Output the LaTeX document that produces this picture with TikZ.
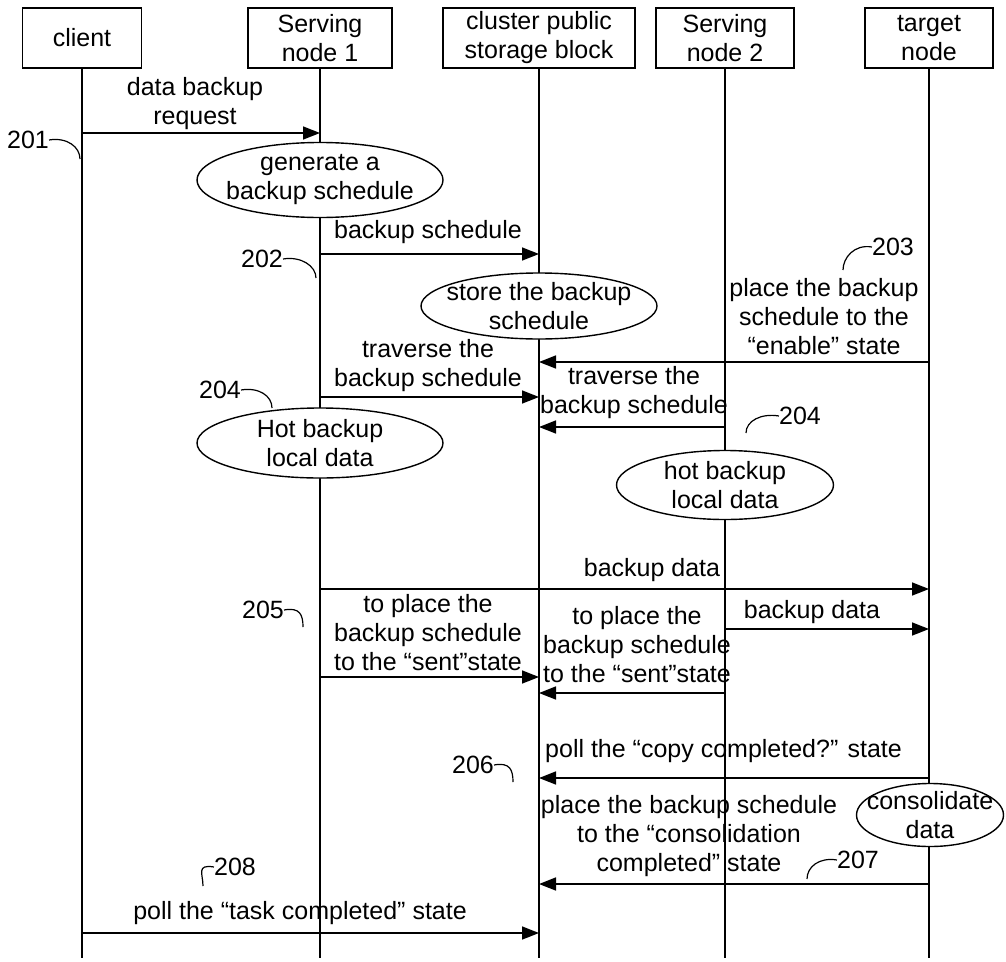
\documentclass[tikz,border=0pt]{standalone}
\usepackage{fontspec}
\setmainfont{Liberation Sans}
\usetikzlibrary{arrows.meta,shapes.geometric}
\begin{document}
\begin{tikzpicture}[x=1pt,y=-1pt,
  every node/.style={font=\fontsize{25}{29}\selectfont, inner sep=0pt},
  head/.style={draw, line width=1.6pt, minimum height=60pt, align=center},
  life/.style={line width=1.6pt},
  msg/.style={line width=1.6pt, -{Triangle[length=17pt,width=13pt]}},
  act/.style={ellipse, draw, line width=1.4pt, fill=white},
  lbl/.style={align=center},
  lead/.style={line width=1.2pt},
]
\useasboundingbox (0,0) rectangle (1006,961);
% heads
\node[head, minimum width=119pt] (cl) at (82,38) {client};
\node[head, minimum width=144pt] (s1) at (320,38) {Serving\\node 1};
\node[head, minimum width=192pt] (cs) at (539,38) {cluster public\\storage block};
\node[head, minimum width=138pt] (s2) at (725,38) {Serving\\node 2};
\node[head, minimum width=128pt] (tn) at (929,38) {target\\node};
% lifelines
\coordinate (clb) at (cl |- 0,958);
\coordinate (s1b) at (s1 |- 0,958);
\coordinate (csb) at (cs |- 0,958);
\coordinate (s2b) at (s2 |- 0,958);
\coordinate (tnb) at (tn |- 0,958);
\draw[life] (cl.south) -- (clb);
\draw[life] (s1.south) -- (s1b);
\draw[life] (cs.south) -- (csb);
\draw[life] (s2.south) -- (s2b);
\draw[life] (tn.south) -- (tnb);
% activity ellipses
\node[act, minimum width=246pt, minimum height=75pt] (e1) at (320,180) {};
\node[lbl] at (e1) {generate a\\backup schedule};
\node[act, minimum width=236pt, minimum height=66pt] (e2) at (539,306) {};
\node[lbl] at (e2) {store the backup\\schedule};
\node[act, minimum width=246pt, minimum height=70pt] (e3) at (320,443) {};
\node[lbl] at (e3) {Hot backup\\local data};
\node[act, minimum width=217pt, minimum height=69pt] (e4) at (725,485) {};
\node[lbl] at (e4) {hot backup\\local data};
\node[act, minimum width=147pt, minimum height=63pt] (e5) at (930,815) {};
\node[lbl] at (e5) {consolidate\\data};
% messages
\node[lbl] (m1) at (195,103.5) {data backup\\request};
\draw[msg] (cl |- 0,133) -- (s1 |- 0,133);
\node[lbl] (m2) at (428,232) {backup schedule};
\draw[msg] (s1 |- 0,254) -- (cs |- 0,254);
\node[lbl] (m3) at (824,317) {place the backup\\schedule to the\\“enable” state};
\draw[msg] (tn |- 0,362) -- (cs |- 0,362);
\node[lbl] (m4) at (428,366) {traverse the\\backup schedule};
\draw[msg] (s1 |- 0,397) -- (cs |- 0,397);
\node[lbl] (m5) at (634,393) {traverse the\\backup schedule};
\draw[msg] (s2 |- 0,427) -- (cs |- 0,427);
\node[lbl] (m6) at (652,570) {backup data};
\draw[msg] (s1 |- 0,589) -- (tn |- 0,589);
\node[lbl] (m7) at (428,633) {to place the\\backup schedule\\to the “sent”state};
\draw[msg] (s1 |- 0,677) -- (cs |- 0,677);
\node[lbl] (m8) at (637,645) {to place the\\backup schedule\\to the “sent”state};
\draw[msg] (s2 |- 0,693) -- (cs |- 0,693);
\node[lbl] (m9) at (812,612) {backup data};
\draw[msg] (s2 |- 0,629) -- (tn |- 0,629);
\node[lbl, anchor=west] (m10) at (545,751) {poll the “copy completed?” state};
\draw[msg] (tn |- 0,778) -- (cs |- 0,778);
\node[lbl] (m11) at (689,836) {place the backup schedule\\to the “consolidation\\completed” state};
\draw[msg] (tn |- 0,884) -- (cs |- 0,884);
\node[lbl] (m12) at (300,913) {poll the “task completed” state};
\draw[msg] (cl |- 0,933) -- (cs |- 0,933);
% reference numerals
\node (r201) at (28,140) {201};
\coordinate (c201) at (80,159);
\draw[lead] (r201.east) .. controls +(18,-3) and +(0,-12) .. (c201);
\node (r202) at (262,259) {202};
\coordinate (c202) at (316,278);
\draw[lead] (r202.east) .. controls +(18,-3) and +(0,-12) .. (c202);
\node (r203) at (893,247) {203};
\coordinate (c203) at (843,270);
\draw[lead] (c203) .. controls +(0,-12) and +(-18,-3) .. (r203.west);
\node (r204a) at (220,390) {204};
\coordinate (c204a) at (272,408);
\draw[lead] (r204a.east) .. controls +(18,-3) and +(0,-12) .. (c204a);
\node (r204b) at (800,416) {204};
\coordinate (c204b) at (746,433);
\draw[lead] (c204b) .. controls +(0,-12) and +(-18,-3) .. (r204b.west);
\node (r205) at (263,610) {205};
\coordinate (c205) at (303,627);
\draw[lead] (r205.east) .. controls +(16,-3) and +(0,-12) .. (c205);
\node (r206) at (473,765) {206};
\coordinate (c206) at (513,782);
\draw[lead] (r206.east) .. controls +(16,-3) and +(0,-12) .. (c206);
\node (r207) at (858,860) {207};
\coordinate (c207) at (807,879);
\draw[lead] (c207) .. controls +(0,-12) and +(-18,-3) .. (r207.west);
\node (r208) at (235,867) {208};
\coordinate (c208) at (203,886);
\draw[lead] (c208) .. controls +(0,-12) and +(-18,-3) .. (r208.west);
\end{tikzpicture}
\end{document}
